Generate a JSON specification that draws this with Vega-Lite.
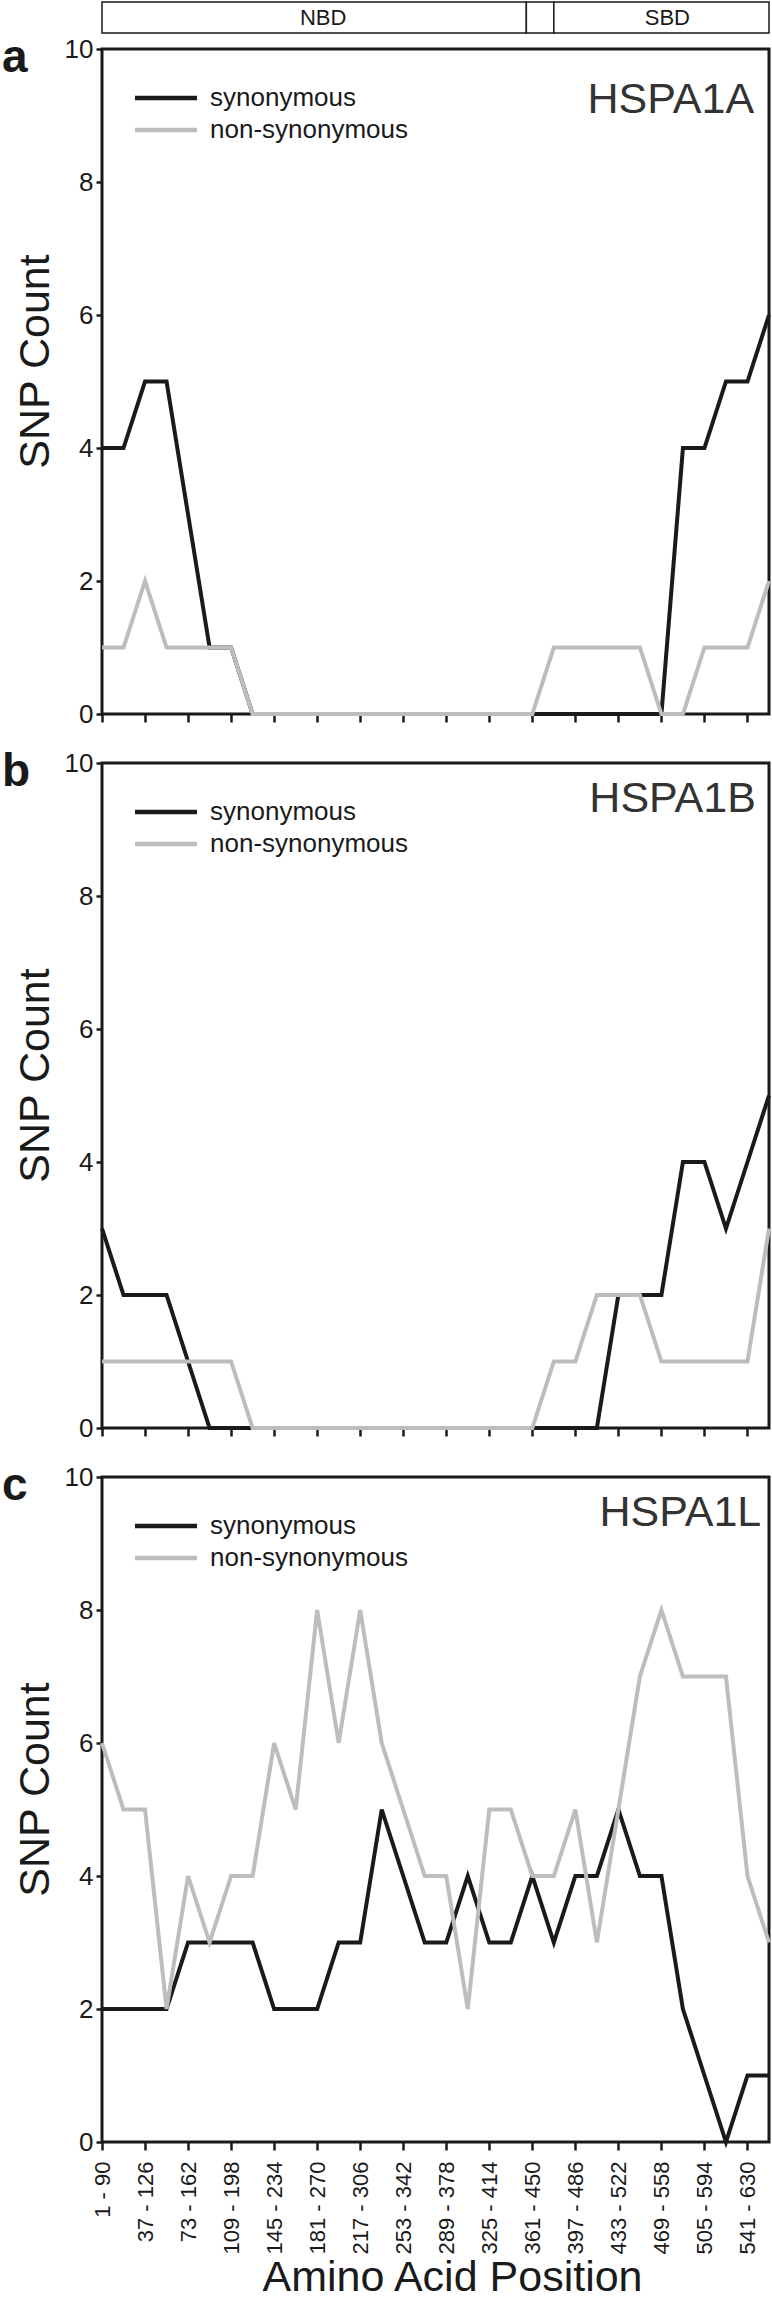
{
  "$schema": "https://vega.github.io/schema/vega-lite/v6.json",
  "padding": {"left": 0, "top": 1, "right": 2, "bottom": 0},
  "autosize": {"type": "pad"},
  "config": {
    "font": "Liberation Sans",
    "view": {"stroke": "#1a1a1a", "strokeWidth": 3},
    "axis": {"domain": false, "grid": false, "tickColor": "#1a1a1a", "labelColor": "#1a1a1a", "titleColor": "#1a1a1a", "labelFont": "Liberation Sans", "titleFont": "Liberation Sans", "titleFontWeight": "normal"},
    "legend": {"orient": "none", "legendX": 30.5, "legendY": 33, "title": null, "symbolType": "stroke", "symbolSize": 3844, "symbolStrokeWidth": 4.5, "clipHeight": 32, "labelFontSize": 26, "labelLimit": 400, "labelOffset": 10.5, "rowPadding": 0, "padding": 0, "labelColor": "#1a1a1a", "labelFont": "Liberation Sans"}
  },
  "datasets": {
    "snp": [
      {"gene": "HSPA1A", "start": 1, "syn": 4, "nonsyn": 1},
      {"gene": "HSPA1A", "start": 19, "syn": 4, "nonsyn": 1},
      {"gene": "HSPA1A", "start": 37, "syn": 5, "nonsyn": 2},
      {"gene": "HSPA1A", "start": 55, "syn": 5, "nonsyn": 1},
      {"gene": "HSPA1A", "start": 73, "syn": 3, "nonsyn": 1},
      {"gene": "HSPA1A", "start": 91, "syn": 1, "nonsyn": 1},
      {"gene": "HSPA1A", "start": 109, "syn": 1, "nonsyn": 1},
      {"gene": "HSPA1A", "start": 127, "syn": 0, "nonsyn": 0},
      {"gene": "HSPA1A", "start": 145, "syn": 0, "nonsyn": 0},
      {"gene": "HSPA1A", "start": 163, "syn": 0, "nonsyn": 0},
      {"gene": "HSPA1A", "start": 181, "syn": 0, "nonsyn": 0},
      {"gene": "HSPA1A", "start": 199, "syn": 0, "nonsyn": 0},
      {"gene": "HSPA1A", "start": 217, "syn": 0, "nonsyn": 0},
      {"gene": "HSPA1A", "start": 235, "syn": 0, "nonsyn": 0},
      {"gene": "HSPA1A", "start": 253, "syn": 0, "nonsyn": 0},
      {"gene": "HSPA1A", "start": 271, "syn": 0, "nonsyn": 0},
      {"gene": "HSPA1A", "start": 289, "syn": 0, "nonsyn": 0},
      {"gene": "HSPA1A", "start": 307, "syn": 0, "nonsyn": 0},
      {"gene": "HSPA1A", "start": 325, "syn": 0, "nonsyn": 0},
      {"gene": "HSPA1A", "start": 343, "syn": 0, "nonsyn": 0},
      {"gene": "HSPA1A", "start": 361, "syn": 0, "nonsyn": 0},
      {"gene": "HSPA1A", "start": 379, "syn": 0, "nonsyn": 1},
      {"gene": "HSPA1A", "start": 397, "syn": 0, "nonsyn": 1},
      {"gene": "HSPA1A", "start": 415, "syn": 0, "nonsyn": 1},
      {"gene": "HSPA1A", "start": 433, "syn": 0, "nonsyn": 1},
      {"gene": "HSPA1A", "start": 451, "syn": 0, "nonsyn": 1},
      {"gene": "HSPA1A", "start": 469, "syn": 0, "nonsyn": 0},
      {"gene": "HSPA1A", "start": 487, "syn": 4, "nonsyn": 0},
      {"gene": "HSPA1A", "start": 505, "syn": 4, "nonsyn": 1},
      {"gene": "HSPA1A", "start": 523, "syn": 5, "nonsyn": 1},
      {"gene": "HSPA1A", "start": 541, "syn": 5, "nonsyn": 1},
      {"gene": "HSPA1A", "start": 559, "syn": 6, "nonsyn": 2},
      {"gene": "HSPA1B", "start": 1, "syn": 3, "nonsyn": 1},
      {"gene": "HSPA1B", "start": 19, "syn": 2, "nonsyn": 1},
      {"gene": "HSPA1B", "start": 37, "syn": 2, "nonsyn": 1},
      {"gene": "HSPA1B", "start": 55, "syn": 2, "nonsyn": 1},
      {"gene": "HSPA1B", "start": 73, "syn": 1, "nonsyn": 1},
      {"gene": "HSPA1B", "start": 91, "syn": 0, "nonsyn": 1},
      {"gene": "HSPA1B", "start": 109, "syn": 0, "nonsyn": 1},
      {"gene": "HSPA1B", "start": 127, "syn": 0, "nonsyn": 0},
      {"gene": "HSPA1B", "start": 145, "syn": 0, "nonsyn": 0},
      {"gene": "HSPA1B", "start": 163, "syn": 0, "nonsyn": 0},
      {"gene": "HSPA1B", "start": 181, "syn": 0, "nonsyn": 0},
      {"gene": "HSPA1B", "start": 199, "syn": 0, "nonsyn": 0},
      {"gene": "HSPA1B", "start": 217, "syn": 0, "nonsyn": 0},
      {"gene": "HSPA1B", "start": 235, "syn": 0, "nonsyn": 0},
      {"gene": "HSPA1B", "start": 253, "syn": 0, "nonsyn": 0},
      {"gene": "HSPA1B", "start": 271, "syn": 0, "nonsyn": 0},
      {"gene": "HSPA1B", "start": 289, "syn": 0, "nonsyn": 0},
      {"gene": "HSPA1B", "start": 307, "syn": 0, "nonsyn": 0},
      {"gene": "HSPA1B", "start": 325, "syn": 0, "nonsyn": 0},
      {"gene": "HSPA1B", "start": 343, "syn": 0, "nonsyn": 0},
      {"gene": "HSPA1B", "start": 361, "syn": 0, "nonsyn": 0},
      {"gene": "HSPA1B", "start": 379, "syn": 0, "nonsyn": 1},
      {"gene": "HSPA1B", "start": 397, "syn": 0, "nonsyn": 1},
      {"gene": "HSPA1B", "start": 415, "syn": 0, "nonsyn": 2},
      {"gene": "HSPA1B", "start": 433, "syn": 2, "nonsyn": 2},
      {"gene": "HSPA1B", "start": 451, "syn": 2, "nonsyn": 2},
      {"gene": "HSPA1B", "start": 469, "syn": 2, "nonsyn": 1},
      {"gene": "HSPA1B", "start": 487, "syn": 4, "nonsyn": 1},
      {"gene": "HSPA1B", "start": 505, "syn": 4, "nonsyn": 1},
      {"gene": "HSPA1B", "start": 523, "syn": 3, "nonsyn": 1},
      {"gene": "HSPA1B", "start": 541, "syn": 4, "nonsyn": 1},
      {"gene": "HSPA1B", "start": 559, "syn": 5, "nonsyn": 3},
      {"gene": "HSPA1L", "start": 1, "syn": 2, "nonsyn": 6},
      {"gene": "HSPA1L", "start": 19, "syn": 2, "nonsyn": 5},
      {"gene": "HSPA1L", "start": 37, "syn": 2, "nonsyn": 5},
      {"gene": "HSPA1L", "start": 55, "syn": 2, "nonsyn": 2},
      {"gene": "HSPA1L", "start": 73, "syn": 3, "nonsyn": 4},
      {"gene": "HSPA1L", "start": 91, "syn": 3, "nonsyn": 3},
      {"gene": "HSPA1L", "start": 109, "syn": 3, "nonsyn": 4},
      {"gene": "HSPA1L", "start": 127, "syn": 3, "nonsyn": 4},
      {"gene": "HSPA1L", "start": 145, "syn": 2, "nonsyn": 6},
      {"gene": "HSPA1L", "start": 163, "syn": 2, "nonsyn": 5},
      {"gene": "HSPA1L", "start": 181, "syn": 2, "nonsyn": 8},
      {"gene": "HSPA1L", "start": 199, "syn": 3, "nonsyn": 6},
      {"gene": "HSPA1L", "start": 217, "syn": 3, "nonsyn": 8},
      {"gene": "HSPA1L", "start": 235, "syn": 5, "nonsyn": 6},
      {"gene": "HSPA1L", "start": 253, "syn": 4, "nonsyn": 5},
      {"gene": "HSPA1L", "start": 271, "syn": 3, "nonsyn": 4},
      {"gene": "HSPA1L", "start": 289, "syn": 3, "nonsyn": 4},
      {"gene": "HSPA1L", "start": 307, "syn": 4, "nonsyn": 2},
      {"gene": "HSPA1L", "start": 325, "syn": 3, "nonsyn": 5},
      {"gene": "HSPA1L", "start": 343, "syn": 3, "nonsyn": 5},
      {"gene": "HSPA1L", "start": 361, "syn": 4, "nonsyn": 4},
      {"gene": "HSPA1L", "start": 379, "syn": 3, "nonsyn": 4},
      {"gene": "HSPA1L", "start": 397, "syn": 4, "nonsyn": 5},
      {"gene": "HSPA1L", "start": 415, "syn": 4, "nonsyn": 3},
      {"gene": "HSPA1L", "start": 433, "syn": 5, "nonsyn": 5},
      {"gene": "HSPA1L", "start": 451, "syn": 4, "nonsyn": 7},
      {"gene": "HSPA1L", "start": 469, "syn": 4, "nonsyn": 8},
      {"gene": "HSPA1L", "start": 487, "syn": 2, "nonsyn": 7},
      {"gene": "HSPA1L", "start": 505, "syn": 1, "nonsyn": 7},
      {"gene": "HSPA1L", "start": 523, "syn": 0, "nonsyn": 7},
      {"gene": "HSPA1L", "start": 541, "syn": 1, "nonsyn": 4},
      {"gene": "HSPA1L", "start": 559, "syn": 1, "nonsyn": 3}
    ]
  },
  "bounds": "flush",
  "spacing": 16,
  "vconcat": [
    {
      "width": 667,
      "height": 31,
      "view": {"stroke": null},
      "data": {"values": [
        {"domain": "NBD", "from": 1, "to": 356, "mid": 186},
        {"domain": "linker", "from": 356, "to": 379, "mid": 367},
        {"domain": "SBD", "from": 379, "to": 559, "mid": 474}
      ]},
      "layer": [
        {
          "mark": {"type": "rect", "fill": "white", "stroke": "#1a1a1a", "strokeWidth": 1.5},
          "encoding": {
            "x": {"field": "from", "type": "quantitative", "scale": {"domain": [1, 559], "nice": false, "zero": false}, "axis": null},
            "x2": {"field": "to"}
          }
        },
        {
          "transform": [{"filter": "datum.domain != 'linker'"}],
          "mark": {"type": "text", "fontSize": 22, "color": "#1a1a1a", "font": "Liberation Sans", "baseline": "middle"},
          "encoding": {
            "x": {"field": "mid", "type": "quantitative", "scale": {"domain": [1, 559], "nice": false, "zero": false}, "axis": null},
            "text": {"field": "domain"}
          }
        }
      ]
    },
    {
      "bounds": "flush",
      "spacing": 49,
      "resolve": {"scale": {"color": "independent"}, "legend": {"color": "independent"}},
      "vconcat": [
        {
          "width": 667,
          "height": 665,
          "title": {"text": "a", "anchor": "start", "frame": "group", "orient": "top", "offset": -81.5, "dx": -100, "fontSize": 46, "fontWeight": "bold", "baseline": "alphabetic", "color": "#1a1a1a", "font": "Liberation Sans"},
          "layer": [
            {
              "data": {"name": "snp"},
              "transform": [{"filter": "datum.gene == 'HSPA1A'"}],
              "mark": {"type": "line", "strokeWidth": 4},
              "encoding": {
                "x": {"field": "start", "type": "quantitative", "scale": {"domain": [1, 559], "nice": false, "zero": false},
                  "axis": {"values": [1,19,37,55,73,91,109,127,145,163,181,199,217,235,253,271,289,307,325,343,361,379,397,415,433,451,469,487,505,523,541,559], "labels": false, "title": null, "tickSize": 8, "tickWidth": 2.5}},
                "y": {"field": "syn", "type": "quantitative", "scale": {"domain": [0, 10], "nice": false}, "axis": {"values": [0,2,4,6,8,10], "format": "d", "title": "SNP Count", "titleFontSize": 43, "titleX": -54, "titleY": 312, "titleAngle": 270, "titleBaseline": "alphabetic", "titleAlign": "center", "labelFontSize": 26, "tickSize": 6, "tickWidth": 2.5, "labelPadding": 3}},
                "color": {"datum": "synonymous", "scale": {"domain": ["synonymous", "non-synonymous"], "range": ["#1a1a1a", "#bdbdbd"]}}
              }
            },
            {
              "data": {"name": "snp"},
              "transform": [{"filter": "datum.gene == 'HSPA1A'"}],
              "mark": {"type": "line", "strokeWidth": 4},
              "encoding": {
                "x": {"field": "start", "type": "quantitative"},
                "y": {"field": "nonsyn", "type": "quantitative"},
                "color": {"datum": "non-synonymous"}
              }
            },
            {
              "data": {"values": [{"label": "HSPA1A", "pos": 546.5, "level": 9.045}]},
              "mark": {"type": "text", "align": "right", "baseline": "alphabetic", "fontSize": 43, "color": "#333333", "font": "Liberation Sans"},
              "encoding": {
                "x": {"field": "pos", "type": "quantitative"},
                "y": {"field": "level", "type": "quantitative"},
                "text": {"field": "label", "type": "nominal"}
              }
            }
          ]
        },
        {
          "width": 667,
          "height": 665,
          "title": {"text": "b", "anchor": "start", "frame": "group", "orient": "top", "offset": -81.5, "dx": -100, "fontSize": 46, "fontWeight": "bold", "baseline": "alphabetic", "color": "#1a1a1a", "font": "Liberation Sans"},
          "layer": [
            {
              "data": {"name": "snp"},
              "transform": [{"filter": "datum.gene == 'HSPA1B'"}],
              "mark": {"type": "line", "strokeWidth": 4},
              "encoding": {
                "x": {"field": "start", "type": "quantitative", "scale": {"domain": [1, 559], "nice": false, "zero": false},
                  "axis": {"values": [1,19,37,55,73,91,109,127,145,163,181,199,217,235,253,271,289,307,325,343,361,379,397,415,433,451,469,487,505,523,541,559], "labels": false, "title": null, "tickSize": 8, "tickWidth": 2.5}},
                "y": {"field": "syn", "type": "quantitative", "scale": {"domain": [0, 10], "nice": false}, "axis": {"values": [0,2,4,6,8,10], "format": "d", "title": "SNP Count", "titleFontSize": 43, "titleX": -54, "titleY": 312, "titleAngle": 270, "titleBaseline": "alphabetic", "titleAlign": "center", "labelFontSize": 26, "tickSize": 6, "tickWidth": 2.5, "labelPadding": 3}},
                "color": {"datum": "synonymous", "scale": {"domain": ["synonymous", "non-synonymous"], "range": ["#1a1a1a", "#bdbdbd"]}}
              }
            },
            {
              "data": {"name": "snp"},
              "transform": [{"filter": "datum.gene == 'HSPA1B'"}],
              "mark": {"type": "line", "strokeWidth": 4},
              "encoding": {
                "x": {"field": "start", "type": "quantitative"},
                "y": {"field": "nonsyn", "type": "quantitative"},
                "color": {"datum": "non-synonymous"}
              }
            },
            {
              "data": {"values": [{"label": "HSPA1B", "pos": 548, "level": 9.26}]},
              "mark": {"type": "text", "align": "right", "baseline": "alphabetic", "fontSize": 43, "color": "#333333", "font": "Liberation Sans"},
              "encoding": {
                "x": {"field": "pos", "type": "quantitative"},
                "y": {"field": "level", "type": "quantitative"},
                "text": {"field": "label", "type": "nominal"}
              }
            }
          ]
        },
        {
          "width": 667,
          "height": 665,
          "title": {"text": "c", "anchor": "start", "frame": "group", "orient": "top", "offset": -81.5, "dx": -100, "fontSize": 46, "fontWeight": "bold", "baseline": "alphabetic", "color": "#1a1a1a", "font": "Liberation Sans"},
          "layer": [
            {
              "data": {"name": "snp"},
              "transform": [{"filter": "datum.gene == 'HSPA1L'"}],
              "mark": {"type": "line", "strokeWidth": 4},
              "encoding": {
                "x": {"field": "start", "type": "quantitative", "scale": {"domain": [1, 559], "nice": false, "zero": false},
                  "axis": {"values": [1,19,37,55,73,91,109,127,145,163,181,199,217,235,253,271,289,307,325,343,361,379,397,415,433,451,469,487,505,523,541,559],
                    "labelExpr": "(datum.value - 1) % 36 == 0 ? datum.value + ' - ' + (datum.value + 89) : ''",
                    "labelAngle": 270, "labelFontSize": 22, "labelPadding": 11, "labelOverlap": false, "labelFlush": false, "labelBound": false,
                    "tickSize": 8, "tickWidth": 2.5,
                    "title": "Amino Acid Position", "titleFontSize": 43, "titleX": 350, "titleY": 148, "titleBaseline": "alphabetic", "titleAlign": "center"}},
                "y": {"field": "syn", "type": "quantitative", "scale": {"domain": [0, 10], "nice": false}, "axis": {"values": [0,2,4,6,8,10], "format": "d", "title": "SNP Count", "titleFontSize": 43, "titleX": -54, "titleY": 312, "titleAngle": 270, "titleBaseline": "alphabetic", "titleAlign": "center", "labelFontSize": 26, "tickSize": 6, "tickWidth": 2.5, "labelPadding": 3}},
                "color": {"datum": "synonymous", "scale": {"domain": ["synonymous", "non-synonymous"], "range": ["#1a1a1a", "#bdbdbd"]}}
              }
            },
            {
              "data": {"name": "snp"},
              "transform": [{"filter": "datum.gene == 'HSPA1L'"}],
              "mark": {"type": "line", "strokeWidth": 4},
              "encoding": {
                "x": {"field": "start", "type": "quantitative"},
                "y": {"field": "nonsyn", "type": "quantitative"},
                "color": {"datum": "non-synonymous"}
              }
            },
            {
              "data": {"values": [{"label": "HSPA1L", "pos": 552.5, "level": 9.26}]},
              "mark": {"type": "text", "align": "right", "baseline": "alphabetic", "fontSize": 43, "color": "#333333", "font": "Liberation Sans"},
              "encoding": {
                "x": {"field": "pos", "type": "quantitative"},
                "y": {"field": "level", "type": "quantitative"},
                "text": {"field": "label", "type": "nominal"}
              }
            }
          ]
        }
      ]
    }
  ]
}
